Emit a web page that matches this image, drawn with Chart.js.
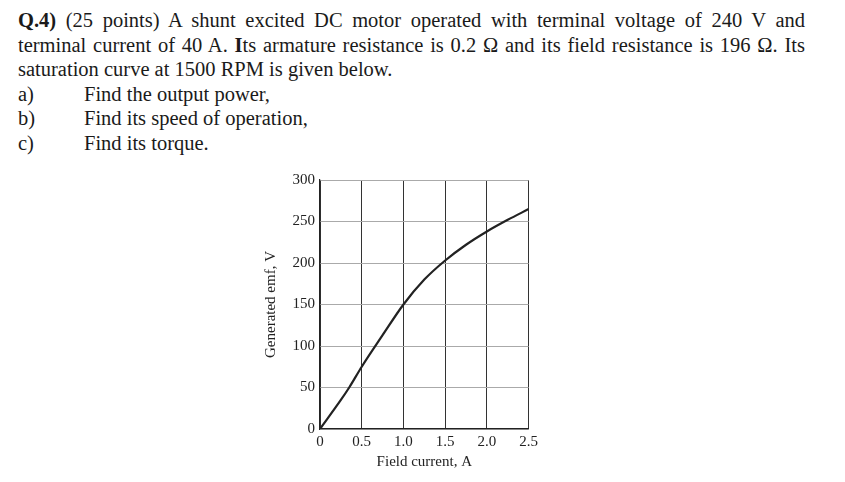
<!DOCTYPE html>
<html><head><meta charset="utf-8">
<script src="https://cdn.jsdelivr.net/npm/chart.js@4"></script>
<style>
body{margin:0;background:#fff;width:845px;height:482px;overflow:hidden;font-family:"Liberation Serif",serif;color:#1a1a1a}
#txt{position:absolute;left:18px;top:8px;font-size:20.5px;line-height:24.6px;width:787px;white-space:nowrap}
#txt .j{text-align:justify;text-align-last:justify}
#txt .i{display:inline-block;width:66px}
#box{position:absolute;left:260px;top:166px;width:282px;height:306px}
</style></head><body>
<div id="txt">
<div class="j"><b>Q.4)</b> (25 points) A shunt excited DC motor operated with terminal voltage of 240 V and</div>
<div class="j">terminal current of 40 A. <b>I</b>ts armature resistance is 0.2 Ω and its field resistance is 196 Ω. Its</div>
<div>saturation curve at 1500 RPM is given below.</div>
<div><span class="i">a)</span>Find the output power,</div>
<div><span class="i">b)</span>Find its speed of operation,</div>
<div><span class="i">c)</span>Find its torque.</div>
</div>
<div id="box"><canvas id="c"></canvas></div>
<script>
// saturation curve
const fieldCurrent = [0, 0.25, 0.35, 0.5, 0.75, 1.0, 1.25, 1.5, 1.75, 2.0, 2.25, 2.5];
const emf = [0, 35, 50, 75, 113, 150, 180, 203, 222, 238, 252, 265];
const xTicks = [0, 0.5, 1.0, 1.5, 2.0, 2.5];
const yTicks = [0, 50, 100, 150, 200, 250, 300];

const font = {family: 'Liberation Serif', size: 15};
new Chart(document.getElementById('c'), {
  type: 'line',
  data: {datasets: [{
    data: fieldCurrent.map((x, i) => ({x: x, y: emf[i]})),
    borderColor: '#222', borderWidth: 2.2, pointRadius: 0, tension: 0.4, cubicInterpolationMode: 'monotone'
  }]},
  options: {
    responsive: true, maintainAspectRatio: false, animation: false,
    layout: {padding: {top: 0, right: 0}},
    plugins: {legend: {display: false}, tooltip: {enabled: false}},
    scales: {
      x: {type: 'linear', min: 0, max: 2.5,
        afterBuildTicks: a => { a.ticks = xTicks.map(v => ({value: v})); },
        afterFit: a => { a.height = 43; },
        grid: {color: '#333', lineWidth: 1, drawTicks: false},
        border: {color: '#222', width: 1.2},
        ticks: {color: '#222', font: font, padding: 4, callback: v => v === 0 ? '0' : v.toFixed(1)},
        title: {display: true, text: 'Field current, A', color: '#222', font: font, padding: 1}},
      y: {min: 0, max: 300,
        afterBuildTicks: a => { a.ticks = yTicks.map(v => ({value: v})); },
        afterFit: a => { a.width = 60; },
        grid: {color: '#aaa', lineWidth: 1, borderDash: [4, 3], drawTicks: false},
        border: {color: '#222', width: 1.2},
        ticks: {color: '#222', font: font, padding: 5},
        title: {display: true, text: 'Generated emf, V', color: '#222', font: font, padding: 2}}
    }
  }
});
</script>
</body></html>
